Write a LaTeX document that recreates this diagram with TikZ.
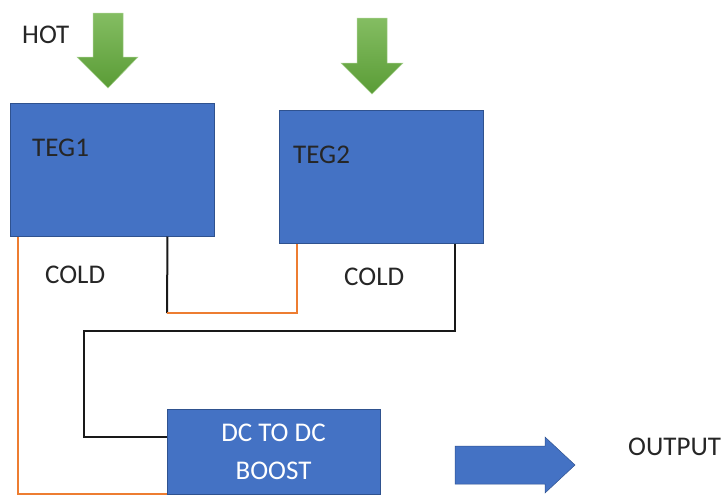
\documentclass[tikz,border=0pt]{standalone}
\usepackage{fontspec}
\setmainfont{Carlito}
\definecolor{tegblue}{HTML}{4472C4}
\definecolor{tegedge}{HTML}{2F528F}
\definecolor{wireorange}{HTML}{ED7D31}
\definecolor{hotlight}{HTML}{84BD62}
\definecolor{hotdark}{HTML}{5A9C36}
\begin{document}
\begin{tikzpicture}[x=1pt,y=-1pt,every node/.style={font=\fontsize{27}{38}\selectfont,inner sep=0pt},
 teg/.style={draw=tegedge,line width=1pt,fill=tegblue,minimum width=204pt,minimum height=133pt},
 lbl/.style={anchor=base west,text=black!85},
 blk/.style={line width=2pt,black!90},org/.style={line width=2pt,wireorange},
 hot/.style={top color=hotlight,bottom color=hotdark,draw=hotlight!70,line width=0.5pt}]
\useasboundingbox (0,0) rectangle (724,496);
% heat in
\path[hot] (93,13)--(123,13)--(123,57)--(138,57)--(108,88)--(77,57)--(93,57)--cycle;
\path[hot] (357,18)--(387,18)--(387,63)--(403,63)--(372,94)--(341,63)--(357,63)--cycle;
\node[lbl] (hot) at (22,43) {HOT};
% modules
\node[teg] (teg1) at (112,169.5) {};
\node[teg] (teg2) at (381,176.5) {};
\node[teg,minimum width=213pt,minimum height=85pt,text=white,align=center] (dc) at (273.5,451.5) {DC TO DC\\BOOST};
\node[lbl] (t1) at (32,156) {TEG1};
\node[lbl] (t2) at (293,163) {TEG2};
\node[lbl] (c1) at (45,283) {COLD};
\node[lbl] (c2) at (344,285) {COLD};
\node[lbl] (out) at (628,455) {OUTPUT};
% wiring
\coordinate (j1) at (167,313);\coordinate (j2) at (84,331);
\draw[blk] ([xshift=-47pt]teg1.south east)--(j1);
\draw[org] (j1)-|([xshift=18pt]teg2.south west);
\draw[blk] ([xshift=-29pt]teg2.south east)|-(j2)|-([yshift=-28pt]dc.north west);
\draw[org] ([xshift=8pt]teg1.south west)|-([yshift=1pt]dc.south west);
% power out
\path[fill=tegblue,draw=tegedge,line width=0.5pt] (455,446)--(545,446)--(545,437)--(575,465)--(545,493)--(545,484)--(455,484)--cycle;
\end{tikzpicture}
\end{document}
